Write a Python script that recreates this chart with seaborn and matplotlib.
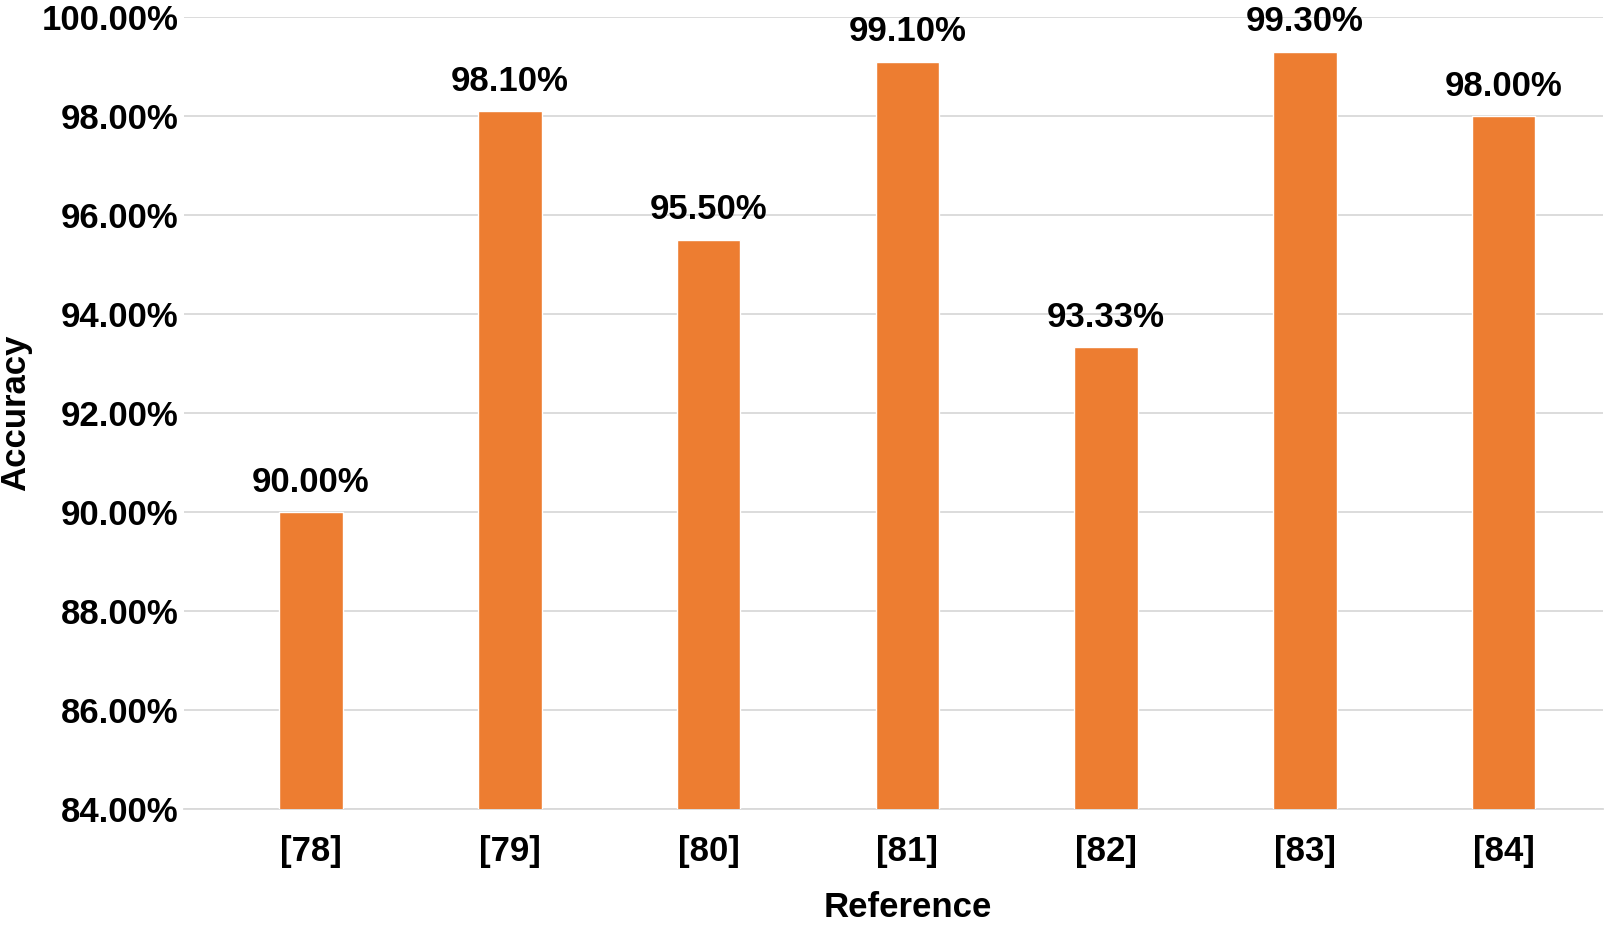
import seaborn as sns
import matplotlib.pyplot as plt
import pandas as pd
from matplotlib.ticker import FuncFormatter

# values
references = ["[78]", "[79]", "[80]", "[81]", "[82]", "[83]", "[84]"]
accuracy = [90.00, 98.10, 95.50, 99.10, 93.33, 99.30, 98.00]
yticks = [84, 86, 88, 90, 92, 94, 96, 98, 100]

df = pd.DataFrame({"Reference": references, "Accuracy": accuracy})

sns.set_style("white")
plt.rcParams['font.family'] = ['Liberation Sans', 'DejaVu Sans']
plt.rcParams['text.color'] = 'black'
plt.rcParams['axes.labelcolor'] = 'black'
plt.rcParams['xtick.color'] = 'black'
plt.rcParams['ytick.color'] = 'black'

fig = plt.figure(figsize=(16.05, 9.27), dpi=100)
ax = fig.add_axes([184 / 1605, 1 - 809 / 927, (1603 - 184) / 1605, (809 - 17) / 927])

sns.barplot(data=df, x="Reference", y="Accuracy", color="#ED7D31", width=0.32,
            saturation=1, ax=ax, zorder=3)

ax.set_ylim(84, 100)
ax.set_xlim(-0.639, 6.5)
ax.set_yticks(yticks)
ax.yaxis.set_major_formatter(FuncFormatter(lambda v, p: "{:.2f}%".format(v)))
ax.grid(axis="y", color="#D9D9D9", linewidth=1.3, zorder=0)
for s in ["top", "right", "left"]:
    ax.spines[s].set_visible(False)
ax.spines["bottom"].set_color("#D9D9D9")
ax.spines["bottom"].set_linewidth(1.3)
ax.tick_params(axis="both", length=0, labelsize=25)
ax.tick_params(axis="y", pad=4)
ax.tick_params(axis="x", pad=19)
for lab in ax.get_xticklabels() + ax.get_yticklabels():
    lab.set_fontweight("bold")

for i, v in enumerate(accuracy):
    ax.text(i, v + 0.27, "{:.2f}%".format(v), ha="center", va="bottom",
            fontsize=25, fontweight="bold")

ax.set_xlabel("Reference", fontsize=25, fontweight="bold")
ax.xaxis.set_label_coords(0.51, -0.104)
ax.set_ylabel("Accuracy", fontsize=25, fontweight="bold", labelpad=7)

fig.savefig("out.png", dpi=100)
